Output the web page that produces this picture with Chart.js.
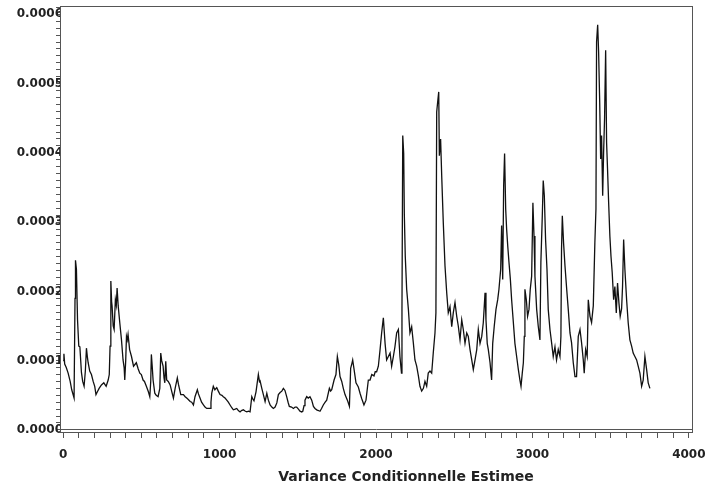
<!DOCTYPE html>
<html>
<head>
<meta charset="utf-8">
<script src="https://cdn.jsdelivr.net/npm/chart.js@4/dist/chart.umd.min.js"></script>
<style>
  body { margin: 0; background: #fff; }
  #wrap { width: 705px; height: 489px; position: relative; }
</style>
</head>
<body>
<div id="wrap"><canvas id="varChart"></canvas></div>
<script>
// observation index (x) and estimated conditional variance, in units of 1e-4
const UNIT = 1e-4;

const obs = [
  0, 5, 10, 20, 32, 45, 55, 70, 76, 79, 85, 92, 100, 107, 117, 125, 134, 142, 149, 155,
  160, 170, 181, 192, 202, 210, 219, 230, 245, 260, 275, 288, 295, 300, 305, 310, 313, 320, 326, 334,
  340, 345, 352, 362, 373, 383, 390, 394, 400, 405, 410, 415, 425, 437, 450, 468, 480, 490, 500, 511,
  520, 532, 545, 554, 560, 564, 570, 575, 586, 595, 607, 618, 624, 630, 639, 645, 650, 656, 662, 672,
  684, 695, 705, 716, 730, 737, 752, 769, 780, 790, 800, 812, 822, 833, 843, 858, 865, 875, 885, 897,
  907, 918, 930, 939, 945, 950, 960, 970, 982, 992, 1003, 1015, 1024, 1035, 1046, 1056, 1067, 1078, 1088, 1100,
  1110, 1120, 1131, 1140, 1152, 1165, 1174, 1185, 1195, 1206, 1212, 1220, 1233, 1248, 1255, 1259, 1270, 1280, 1291, 1302,
  1312, 1323, 1334, 1344, 1355, 1366, 1376, 1387, 1398, 1408, 1418, 1429, 1438, 1446, 1460, 1472, 1483, 1493, 1504, 1514,
  1525, 1532, 1540, 1546, 1557, 1567, 1578, 1589, 1600, 1610, 1621, 1632, 1642, 1652, 1663, 1675, 1685, 1702, 1710, 1717,
  1732, 1744, 1753, 1762, 1770, 1781, 1791, 1802, 1817, 1830, 1838, 1845, 1851, 1860, 1872, 1887, 1898, 1909, 1923, 1936,
  1951, 1962, 1973, 1987, 1995, 2004, 2015, 2026, 2036, 2047, 2058, 2068, 2079, 2090, 2100, 2111, 2121, 2132, 2143, 2153,
  2163, 2166, 2171, 2177, 2181, 2187, 2196, 2207, 2217, 2228, 2239, 2249, 2260, 2271, 2281, 2292, 2303, 2313, 2324, 2334,
  2345, 2356, 2366, 2377, 2383, 2388, 2394, 2401, 2405, 2413, 2420, 2430, 2441, 2452, 2462, 2473, 2484, 2494, 2505, 2516,
  2526, 2537, 2548, 2558, 2569, 2580, 2590, 2601, 2612, 2622, 2633, 2644, 2654, 2665, 2676, 2686, 2697, 2703, 2711, 2718,
  2729, 2739, 2746, 2756, 2767, 2778, 2786, 2797, 2803, 2810, 2816, 2822, 2829, 2835, 2842, 2850, 2859, 2867, 2878, 2888,
  2899, 2910, 2920, 2927, 2935, 2942, 2948, 2952, 2961, 2969, 2978, 2986, 2995, 3003, 3010, 3016, 3027, 3037, 3048, 3054,
  3063, 3069, 3076, 3084, 3093, 3101, 3112, 3123, 3133, 3144, 3154, 3165, 3176, 3182, 3186, 3191, 3199, 3208, 3219, 3229,
  3240, 3250, 3261, 3272, 3282, 3293, 3304, 3314, 3325, 3331, 3340, 3350, 3357, 3368, 3378, 3389, 3399, 3406, 3410, 3417,
  3423, 3430, 3436, 3442, 3449, 3455, 3461, 3468, 3474, 3480, 3487, 3495, 3502, 3510, 3519, 3527, 3536, 3544, 3553, 3561,
  3570, 3576, 3583, 3591, 3602, 3612, 3623, 3634, 3644, 3655, 3666, 3676, 3687, 3698, 3708, 3719, 3730, 3740, 3751
];

const variance = [
  1.00, 1.10, 0.95, 0.90, 0.82, 0.70, 0.58, 0.46, 1.90, 2.45, 2.32, 1.59, 1.21, 1.20, 0.83, 0.70, 0.63, 0.85, 1.18, 1.05,
  0.97, 0.85, 0.80, 0.70, 0.63, 0.51, 0.55, 0.60, 0.65, 0.68, 0.63, 0.72, 0.80, 1.21, 2.15, 1.85, 1.79, 1.50, 1.45, 1.88,
  1.80, 2.05, 1.79, 1.55, 1.30, 1.01, 0.90, 0.72, 1.00, 1.35, 1.30, 1.38, 1.16, 1.06, 0.92, 0.97, 0.88, 0.82, 0.80, 0.72,
  0.70, 0.63, 0.55, 0.48, 0.70, 1.09, 0.90, 0.72, 0.53, 0.50, 0.48, 0.60, 1.11, 1.00, 0.92, 0.75, 0.68, 0.99, 0.72, 0.70,
  0.65, 0.55, 0.46, 0.60, 0.75, 0.66, 0.51, 0.51, 0.48, 0.46, 0.44, 0.41, 0.40, 0.36, 0.48, 0.58, 0.52, 0.46, 0.40, 0.36,
  0.33, 0.31, 0.31, 0.31, 0.40, 0.53, 0.63, 0.58, 0.61, 0.56, 0.51, 0.50, 0.48, 0.46, 0.43, 0.40, 0.36, 0.32, 0.29, 0.30,
  0.31, 0.28, 0.26, 0.28, 0.29, 0.27, 0.26, 0.27, 0.26, 0.48, 0.45, 0.42, 0.55, 0.80, 0.70, 0.71, 0.60, 0.51, 0.41, 0.53,
  0.43, 0.36, 0.33, 0.31, 0.33, 0.39, 0.51, 0.54, 0.56, 0.60, 0.57, 0.48, 0.40, 0.34, 0.33, 0.31, 0.33, 0.33, 0.30, 0.27,
  0.26, 0.27, 0.35, 0.43, 0.48, 0.46, 0.48, 0.43, 0.34, 0.31, 0.29, 0.28, 0.27, 0.31, 0.36, 0.40, 0.43, 0.60, 0.56, 0.58,
  0.72, 0.80, 1.06, 0.94, 0.77, 0.70, 0.60, 0.51, 0.43, 0.34, 0.89, 0.95, 1.01, 0.87, 0.68, 0.62, 0.53, 0.45, 0.36, 0.43,
  0.72, 0.72, 0.80, 0.78, 0.84, 0.84, 0.92, 1.16, 1.40, 1.62, 1.25, 1.01, 1.06, 1.11, 0.92, 1.06, 1.20, 1.40, 1.45, 1.06,
  0.82, 1.76, 4.25, 3.99, 3.12, 2.51, 2.03, 1.74, 1.40, 1.49, 1.25, 1.01, 0.92, 0.78, 0.63, 0.56, 0.60, 0.70, 0.63, 0.82,
  0.85, 0.82, 1.11, 1.40, 1.69, 4.59, 4.73, 4.88, 3.96, 4.20, 3.67, 3.00, 2.37, 1.98, 1.69, 1.78, 1.49, 1.69, 1.84, 1.64,
  1.50, 1.30, 1.59, 1.45, 1.25, 1.40, 1.35, 1.16, 1.01, 0.87, 1.01, 1.16, 1.45, 1.25, 1.35, 1.55, 1.98, 1.59, 1.25, 1.16,
  0.97, 0.72, 1.25, 1.50, 1.74, 1.88, 2.03, 2.32, 2.95, 2.17, 3.53, 3.99, 3.19, 2.90, 2.66, 2.42, 2.17, 1.88, 1.55, 1.25,
  1.06, 0.87, 0.72, 0.63, 0.82, 0.97, 1.35, 2.03, 1.88, 1.64, 1.74, 2.03, 2.22, 3.28, 2.80, 2.22, 1.74, 1.50, 1.30, 2.42,
  3.09, 3.60, 3.38, 2.75, 2.32, 1.74, 1.45, 1.25, 1.06, 1.20, 1.01, 1.16, 1.06, 1.35, 2.61, 3.09, 2.70, 2.37, 2.03, 1.74,
  1.40, 1.26, 0.97, 0.77, 0.77, 1.35, 1.45, 1.26, 1.01, 0.82, 1.16, 1.06, 1.88, 1.64, 1.55, 1.79, 2.70, 3.19, 5.60, 5.85,
  5.46, 4.73, 3.91, 4.25, 3.38, 4.01, 4.49, 5.48, 4.15, 3.77, 3.29, 2.80, 2.51, 2.27, 1.88, 2.07, 1.69, 2.12, 1.83, 1.64,
  1.75, 2.07, 2.75, 2.32, 1.88, 1.55, 1.30, 1.21, 1.11, 1.06, 1.01, 0.92, 0.82, 0.63, 0.72, 1.06, 0.87, 0.68, 0.60
];

const xTitle = "Variance Conditionnelle Estimee";

const points = obs.map((x, i) => ({ x: x, y: variance[i] * UNIT }));

const FONT = "DejaVu Sans";
const INK = "#222";

// frame on top and right, plus the axis title
const framePlugin = {
  id: "frame",
  afterDraw(chart) {
    const { ctx, chartArea: a } = chart;
    ctx.save();
    ctx.strokeStyle = "#555";
    ctx.lineWidth = 1;
    ctx.strokeRect(a.left + 0.5, a.top + 0.5, a.right - a.left, a.bottom - a.top);
    ctx.fillStyle = INK;
    ctx.font = "bold 14px '" + FONT + "'";
    ctx.textAlign = "center";
    ctx.textBaseline = "middle";
    ctx.fillText(xTitle, 406, 477);
    ctx.restore();
  }
};

new Chart(document.getElementById("varChart"), {
  type: "line",
  data: {
    datasets: [{
      data: points,
      borderColor: "#111",
      borderWidth: 1.3,
      pointRadius: 0,
      tension: 0,
      fill: false
    }]
  },
  options: {
    responsive: true,
    maintainAspectRatio: false,
    animation: false,
    layout: { padding: { top: 6, right: 13, left: 0, bottom: 0 }, autoPadding: false },
    plugins: { legend: { display: false }, tooltip: { enabled: false } },
    scales: {
      x: {
        type: "linear",
        min: -20,
        max: 4020,
        afterFit(scale) {
          scale.height = 57;
          scale.paddingLeft = 0;
          scale.paddingRight = 0;
        },
        border: { color: "#555" },
        grid: { drawOnChartArea: false, tickLength: 6, color: "#555" },
        ticks: {
          stepSize: 100,
          autoSkip: false,
          includeBounds: false,
          maxRotation: 0,
          padding: 10,
          color: INK,
          font: { family: FONT, weight: "bold", size: 12 },
          callback: v => (v % 1000 === 0 ? String(v) : "")
        }
      },
      y: {
        min: -0.000003,
        max: 0.000612,
        afterFit(scale) {
          scale.width = 60;
          scale.paddingTop = 0;
          scale.paddingBottom = 0;
        },
        border: { color: "#555" },
        grid: {
          drawOnChartArea: true,
          tickLength: 4,
          tickColor: "#555",
          color: ctx => (ctx.tick && Math.abs(ctx.tick.value) < 1e-9 ? "#555" : "rgba(0,0,0,0)")
        },
        ticks: {
          stepSize: 0.00001,
          autoSkip: false,
          includeBounds: false,
          padding: -7,
          color: INK,
          font: { family: FONT, weight: "bold", size: 12 },
          callback: v => {
            const k = v / UNIT;
            return Math.abs(k - Math.round(k)) < 1e-6 ? (Math.round(k) * UNIT).toFixed(4) : "";
          }
        }
      }
    }
  },
  plugins: [framePlugin]
});
</script>
</body>
</html>
